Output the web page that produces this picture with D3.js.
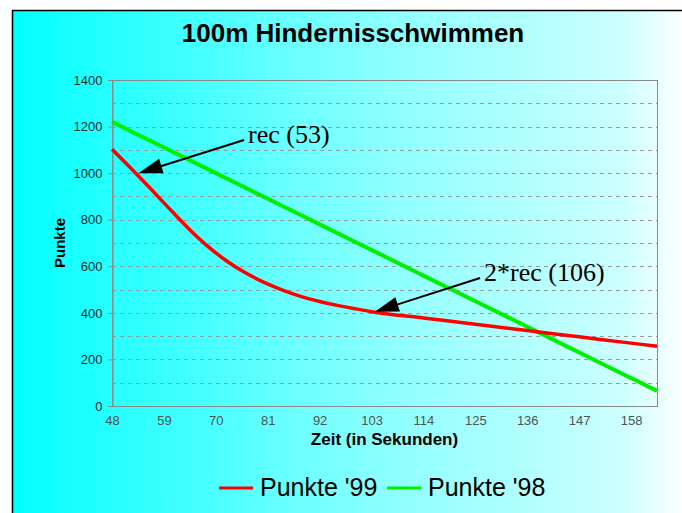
<!doctype html>
<html>
<head>
<meta charset="utf-8">
<script src="https://d3js.org/d3.v7.min.js"></script>
<style>
  body { margin: 0; background: #fff; }
  .tick text { font-family: Arial, "Liberation Sans", sans-serif; }
</style>
</head>
<body>
<script>
// Punkte '99 (red curve)
var redT = [48, 52, 56, 60, 64, 68, 72, 76, 80, 84, 88, 92, 96, 100, 103, 114, 125, 136, 147, 158, 163.5];
var redV = [1103, 1021, 937, 851, 767, 691, 627, 575, 533, 499, 471, 449, 431, 416, 405, 378, 351, 324, 297, 270, 257];
// Punkte '98 (green line)
var greenT = [48, 59, 70, 81, 92, 103, 114, 125, 136, 147, 158, 163.5];
var greenV = [1220, 1110, 1000, 890, 780, 670, 560, 450, 340, 230, 120, 65];

var xTicks = [48, 59, 70, 81, 92, 103, 114, 125, 136, 147, 158];
var yTicks = [0, 200, 400, 600, 800, 1000, 1200, 1400];
var yGrid = [100, 200, 300, 400, 500, 600, 700, 800, 900, 1000, 1100, 1200, 1300];

var seriesNames = ["Punkte '99", "Punkte '98"];
var seriesColors = ["#ff0000", "#00f000"];

// annotations: tip (time, points) and tail (time, points)
var notes = [
  { label: "rec (53)", tip: [53.6, 1000], tail: [76.0, 1142] },
  { label: "2*rec (106)", tip: [103.7, 405], tail: [126.0, 550] }
];

var W = 682, H = 513;
var svg = d3.select("body").append("svg").attr("width", W).attr("height", H);

// background gradient cyan -> white
var grad = svg.append("defs").append("linearGradient").attr("id", "bg")
  .attr("gradientUnits", "userSpaceOnUse").attr("x1", 12).attr("x2", 682).attr("y1", 0).attr("y2", 0);
[[0, 0], [0.07, 20], [0.28, 70], [0.43, 110], [0.58, 145], [0.73, 172], [0.91, 204], [1, 252]].forEach(function(s) {
  grad.append("stop").attr("offset", s[0]).attr("stop-color", d3.rgb(s[1], 255, 255));
});

svg.append("rect").attr("x", 12).attr("y", 10).attr("width", W).attr("height", H).attr("fill", "url(#bg)");
svg.append("path").attr("d", "M12.5," + H + "V10.5H" + W).attr("fill", "none").attr("stroke", "#000").attr("stroke-width", 1.5);

var x = d3.scaleLinear().domain([48, 163.5]).range([112, 657]);
var y = d3.scaleLinear().domain([0, 1400]).range([406, 80]);

// dashed grid
svg.append("g").selectAll("line").data(yGrid).enter().append("line")
  .attr("x1", 112).attr("x2", 657)
  .attr("y1", function(d) { return Math.round(y(d)) + 0.5; })
  .attr("y2", function(d) { return Math.round(y(d)) + 0.5; })
  .attr("stroke", "#9a9a9a").attr("stroke-dasharray", "4,4");

// plot border
svg.append("rect").attr("x", 112.5).attr("y", 80.5).attr("width", 545).attr("height", 326)
  .attr("fill", "none").attr("stroke", "#8a8a8a");

// y axis
var yAxis = d3.axisLeft(y).tickValues(yTicks).tickSize(4).tickPadding(6).tickFormat(d3.format("d"));
var gy = svg.append("g").attr("transform", "translate(112.5,0)").call(yAxis);
gy.select(".domain").attr("stroke", "#8a8a8a");
gy.selectAll(".tick line").attr("stroke", "#8a8a8a");
gy.selectAll(".tick text").attr("font-size", 13).attr("fill", "#1a2a2a");

// x axis
var xAxis = d3.axisBottom(x).tickValues(xTicks).tickSize(0).tickPadding(9);
var gx = svg.append("g").attr("transform", "translate(0,406.5)").call(xAxis);
gx.select(".domain").remove();
gx.selectAll(".tick text").attr("font-size", 13).attr("fill", "#4a5555");

// lines
var line = d3.line().x(function(d) { return x(d[0]); }).y(function(d) { return y(d[1]); }).curve(d3.curveMonotoneX);
svg.append("path").datum(d3.zip(greenT, greenV)).attr("d", line)
  .attr("fill", "none").attr("stroke", seriesColors[1]).attr("stroke-width", 4);
svg.append("path").datum(d3.zip(redT, redV)).attr("d", line)
  .attr("fill", "none").attr("stroke", seriesColors[0]).attr("stroke-width", 3.5);

// annotations
notes.forEach(function(n) {
  var tx = x(n.tip[0]), ty = y(n.tip[1]);
  var sx = x(n.tail[0]), sy = y(n.tail[1]);
  var dx = tx - sx, dy = ty - sy, len = Math.sqrt(dx * dx + dy * dy);
  var ux = dx / len, uy = dy / len;
  var bx = tx - ux * 24, by = ty - uy * 24;
  svg.append("line").attr("x1", sx).attr("y1", sy).attr("x2", bx + ux * 4).attr("y2", by + uy * 4)
    .attr("stroke", "#000").attr("stroke-width", 2);
  svg.append("path")
    .attr("d", "M" + tx + "," + ty + "L" + (bx - uy * 7.5) + "," + (by + ux * 7.5) + "L" + (bx + uy * 7.5) + "," + (by - ux * 7.5) + "Z")
    .attr("fill", "#000");
  svg.append("text").attr("x", sx + 4).attr("y", sy + 3)
    .attr("font-family", "'Liberation Serif', 'Times New Roman', serif").attr("font-size", 26)
    .text(n.label);
});

// title and axis labels
svg.append("text").attr("x", 353).attr("y", 42).attr("text-anchor", "middle")
  .attr("font-family", "Arial, 'Liberation Sans', sans-serif").attr("font-weight", "bold").attr("font-size", 26)
  .text("100m Hindernisschwimmen");
svg.append("text").attr("x", 384.5).attr("y", 445).attr("text-anchor", "middle")
  .attr("font-family", "Arial, 'Liberation Sans', sans-serif").attr("font-weight", "bold").attr("font-size", 17)
  .text("Zeit (in Sekunden)");
svg.append("text").attr("transform", "translate(65,243) rotate(-90)").attr("text-anchor", "middle")
  .attr("font-family", "Arial, 'Liberation Sans', sans-serif").attr("font-weight", "bold").attr("font-size", 15)
  .text("Punkte");

// legend
var legX = [219, 387];
var lg = svg.append("g").selectAll("g").data(seriesNames).enter().append("g")
  .attr("transform", function(d, i) { return "translate(" + legX[i] + ",488)"; });
lg.append("line").attr("x1", 0).attr("x2", 34).attr("stroke", function(d, i) { return seriesColors[i]; }).attr("stroke-width", 3);
lg.append("text").attr("x", 41).attr("y", 8)
  .attr("font-family", "Arial, 'Liberation Sans', sans-serif").attr("font-size", 25)
  .text(function(d) { return d; });
</script>
</body>
</html>
